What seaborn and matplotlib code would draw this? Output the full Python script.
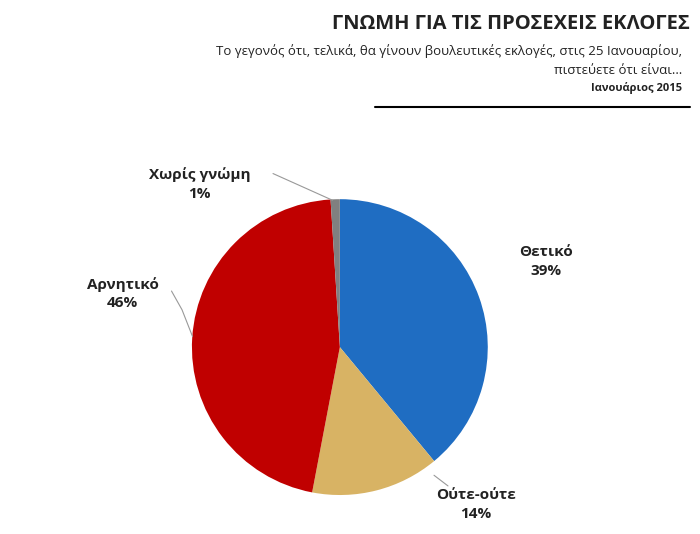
import matplotlib
matplotlib.use("Agg")
import matplotlib.pyplot as plt
import seaborn as sns

sns.set_theme(style="white")
plt.rcParams['font.family'] = ['Open Sans', 'DejaVu Sans']

categories = ["Θετικό", "Ούτε-ούτε", "Αρνητικό", "Χωρίς γνώμη"]
values = [39, 14, 46, 1]
colors = ["#1f6dc2", "#d8b364", "#c00000", "#808080"]

fig = plt.figure(figsize=(7, 5.34), dpi=100)
ax = fig.add_axes([0.274, 0.073, 0.423, 0.554])
ax.pie(values, colors=colors, startangle=90, counterclock=False,
       wedgeprops=dict(linewidth=0))
ax.set_xlim(-1, 1)
ax.set_ylim(-1, 1)
ax.set_aspect('equal')
ax.axis('off')

fig.text(0.985, 0.955, "ΓΝΩΜΗ ΓΙΑ ΤΙΣ ΠΡΟΣΕΧΕΙΣ ΕΚΛΟΓΕΣ", ha='right', va='center',
         fontsize=14.5, fontweight='bold', color='#222222')
fig.text(0.975, 0.905, "Το γεγονός ότι, τελικά, θα γίνουν βουλευτικές εκλογές, στις 25 Ιανουαρίου,",
         ha='right', va='center', fontsize=9.5, color='#222222')
fig.text(0.975, 0.868, "πιστεύετε ότι είναι…", ha='right', va='center', fontsize=9.5, color='#222222')
fig.text(0.975, 0.835, "Ιανουάριος 2015", ha='right', va='center', fontsize=8,
         fontweight='bold', color='#222222')
fig.add_artist(plt.Line2D([0.535, 0.985], [0.8, 0.8], color='black', lw=1.5,
                          transform=fig.transFigure))

lab = dict(ha='center', va='center', fontsize=11, fontweight='bold', color='#222222',
           linespacing=1.4)
fig.text(0.78, 0.51, f"{categories[0]}\n{values[0]}%", **lab)
fig.text(0.68, 0.055, f"{categories[1]}\n{values[1]}%", **lab)
fig.text(0.175, 0.45, f"{categories[2]}\n{values[2]}%", **lab)
fig.text(0.285, 0.655, f"{categories[3]}\n{values[3]}%", **lab)

fig.add_artist(plt.Line2D([0.39, 0.475], [0.675, 0.625], color='#999999', lw=0.8,
                          transform=fig.transFigure))
fig.add_artist(plt.Line2D([0.245, 0.26, 0.275], [0.455, 0.42, 0.37], color='#999999', lw=0.8,
                          transform=fig.transFigure))
fig.add_artist(plt.Line2D([0.62, 0.64], [0.11, 0.09], color='#999999', lw=0.8,
                          transform=fig.transFigure))

fig.savefig("out.png", dpi=100)
